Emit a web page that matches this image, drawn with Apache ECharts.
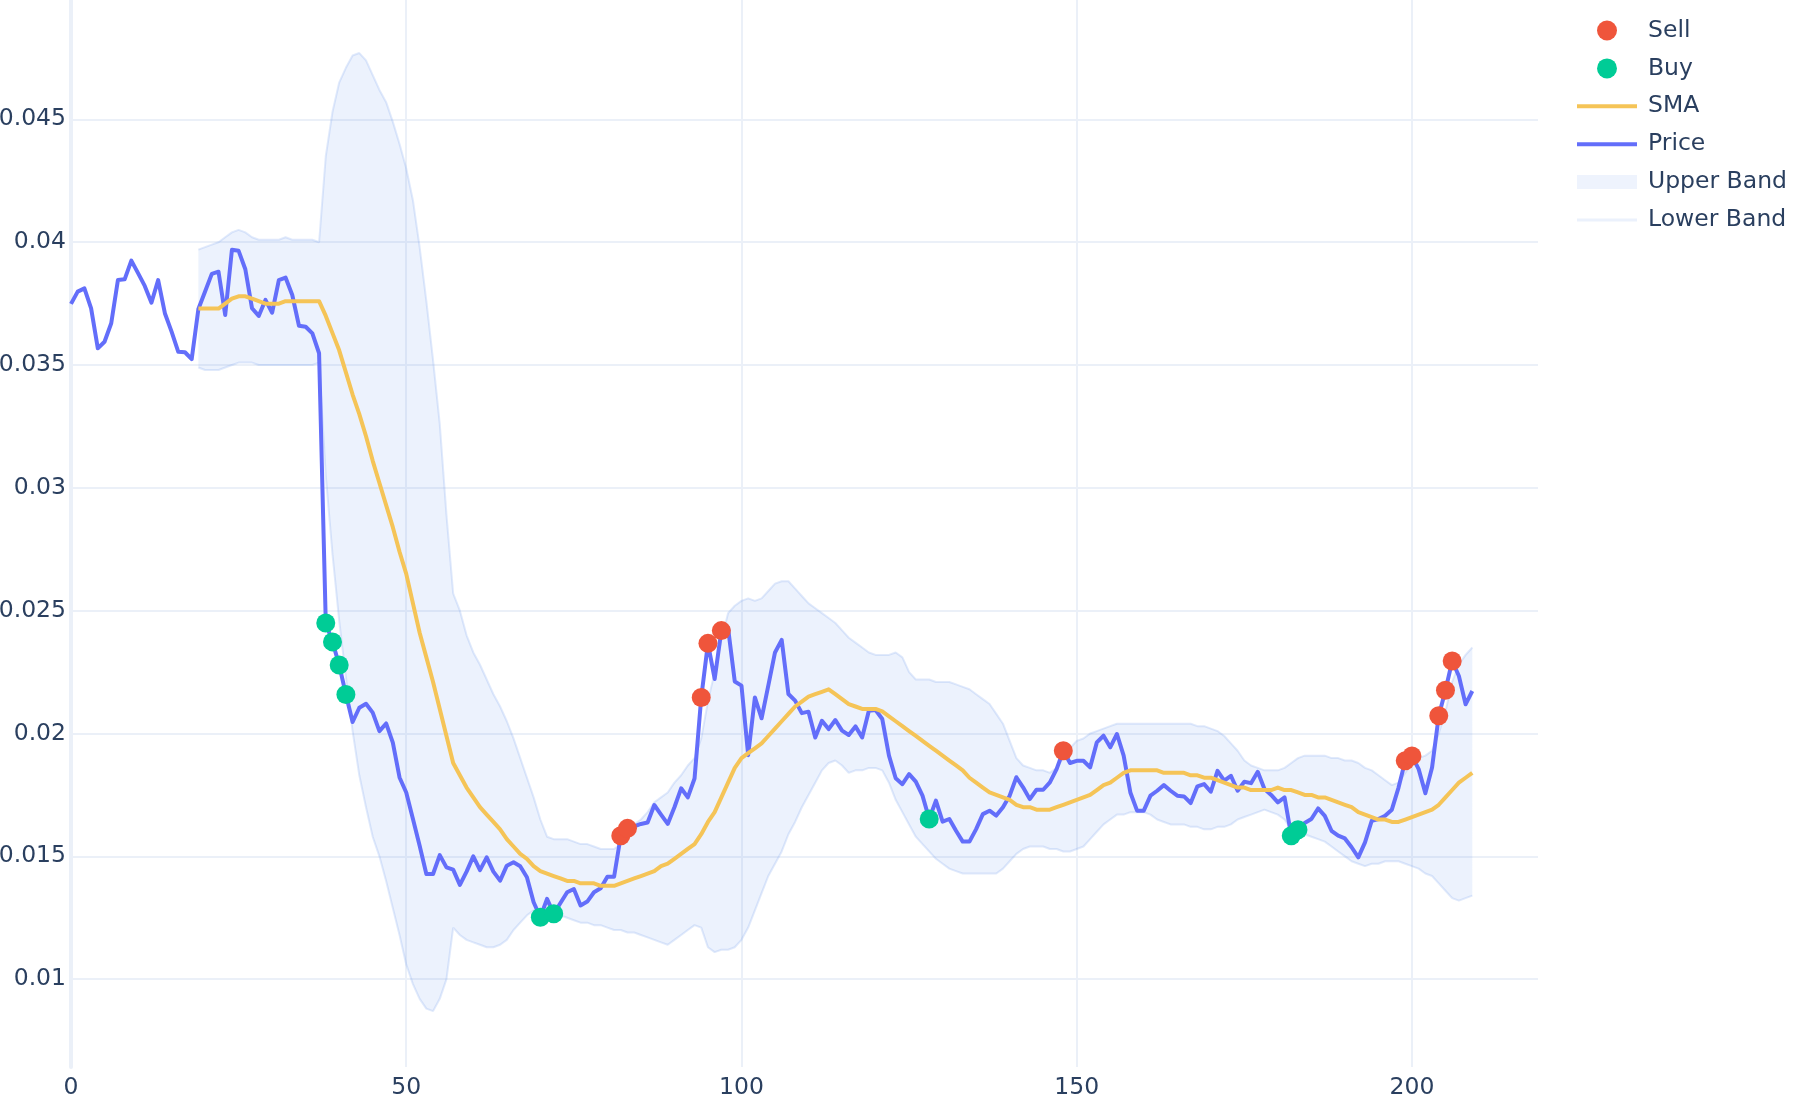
<!DOCTYPE html>
<html><head><meta charset="utf-8">
<script src="https://cdn.jsdelivr.net/npm/echarts@6/dist/echarts.min.js"></script>
<style>html,body{margin:0;padding:0;background:#fff}#c{width:1800px;height:1100px}</style>
</head><body><div id="c"></div>
<script>
// Price, index 0..209
const price = [
0.03749,0.03799,0.03812,0.03731,0.03568,0.03595,0.0367,0.03846,0.03849,0.03925,
0.03874,0.03822,0.03754,0.03846,0.03711,0.03636,0.03554,0.03552,0.03524,0.03728,
0.03799,0.03871,0.0388,0.03704,0.03969,0.03965,0.0389,0.03731,0.037,0.03765,
0.03713,0.03846,0.03856,0.03785,0.0366,0.03656,0.03629,0.03548,0.0245,0.02373,
0.02279,0.02159,0.02047,0.02105,0.02121,0.02085,0.0201,0.02041,0.01963,0.01821,
0.0176,0.01652,0.01543,0.01428,0.01428,0.01505,0.01455,0.01446,0.01384,0.01438,
0.015,0.01444,0.01496,0.01438,0.01401,0.01462,0.01476,0.0146,0.01415,0.01313,
0.01252,0.01327,0.01266,0.0131,0.01354,0.01367,0.013,0.01316,0.01354,0.0137,
0.01417,0.01417,0.01584,0.01614,0.01622,0.01632,0.01638,0.01709,0.0167,0.01632,
0.017,0.01777,0.0174,0.01817,0.02147,0.02367,0.02222,0.02419,0.0243,0.02212,
0.02195,0.01912,0.02147,0.02062,0.02195,0.0233,0.02381,0.02161,0.02134,0.02083,
0.02089,0.01984,0.02052,0.02018,0.02055,0.02012,0.01994,0.02029,0.01984,0.02093,
0.02096,0.02059,0.0191,0.01818,0.01794,0.01835,0.01804,0.01747,0.01652,0.01727,
0.01641,0.01652,0.01604,0.0156,0.0156,0.01611,0.01672,0.01686,0.01666,0.017,
0.01747,0.01822,0.01781,0.01733,0.01771,0.01771,0.01801,0.01855,0.0193,0.0188,
0.01889,0.01889,0.01862,0.01964,0.01991,0.01944,0.01998,0.0191,0.0176,0.01686,
0.01686,0.01747,0.01767,0.0179,0.01767,0.01747,0.01744,0.01717,0.01785,0.01794,
0.01763,0.01848,0.01808,0.01828,0.01767,0.01804,0.01798,0.01844,0.01774,0.0175,
0.0172,0.0174,0.01584,0.01608,0.01636,0.01652,0.01695,0.01665,0.01604,0.01584,
0.01573,0.01537,0.01496,0.01557,0.01645,0.01652,0.01665,0.0169,0.0178,0.01889,
0.01909,0.01855,0.01757,0.01862,0.02072,0.02176,0.02295,0.02234,0.02119,0.02173
];
// SMA / bands start at index 19
const bandStart = 19;
const sma = [
0.0373,0.0373,0.0373,0.0373,0.0375,0.0377,0.0378,0.0378,0.0377,0.0376,0.0375,
0.0375,0.0375,0.0376,0.0376,0.0376,0.0376,0.0376,0.0376,0.0370,0.0363,
0.0356,0.0347,0.0338,0.0330,0.0321,0.0311,0.0302,0.0293,0.0284,0.0274,
0.0265,0.0253,0.0241,0.0231,0.0221,0.0210,0.0199,0.0188,0.0183,0.0178,
0.0174,0.0170,0.0167,0.0164,0.0161,0.0157,0.0154,0.0151,0.0149,0.0146,
0.0144,0.0143,0.0142,0.0141,0.0140,0.0140,0.0139,0.0139,0.0139,0.0138,
0.0138,0.0138,0.0139,0.0140,0.0141,0.0142,0.0143,0.0144,0.0146,0.0147,
0.0149,0.0151,0.0153,0.0155,0.0159,0.0164,0.0168,0.0174,0.0180,0.0186,
0.0190,0.0192,0.0194,0.0196,0.0199,0.0202,0.0205,0.0208,0.0211,0.0213,
0.0215,0.0216,0.0217,0.0218,0.0216,0.0214,0.0212,0.0211,0.0210,0.0210,
0.0210,0.0209,0.0207,0.0205,0.0203,0.0201,0.0199,0.0197,0.0195,0.0193,
0.0191,0.0189,0.0187,0.0185,0.0182,0.0180,0.0178,0.0176,0.0175,0.0174,
0.0173,0.0171,0.0170,0.0170,0.0169,0.0169,0.0169,0.0170,0.0171,0.0172,
0.0173,0.0174,0.0175,0.0177,0.0179,0.0180,0.0182,0.0184,0.0185,0.0185,
0.0185,0.0185,0.0185,0.0184,0.0184,0.0184,0.0184,0.0183,0.0183,0.0182,
0.0182,0.0181,0.0180,0.0179,0.0178,0.0178,0.0177,0.0177,0.0177,0.0177,
0.0178,0.0177,0.0177,0.0176,0.0175,0.0175,0.0174,0.0174,0.0173,0.0172,
0.0171,0.0170,0.0168,0.0167,0.0166,0.0165,0.0165,0.0164,0.0164,0.0165,
0.0166,0.0167,0.0168,0.0169,0.0171,0.0174,0.0177,0.0180,0.0182,0.0184
];
const upper = [
0.0397,0.0398,0.0399,0.0400,0.0402,0.0404,0.0405,0.0404,0.0402,0.0401,0.0401,
0.0401,0.0401,0.0402,0.0401,0.0401,0.0401,0.0401,0.0400,0.0435,0.0453,
0.0465,0.0471,0.0476,0.0477,0.0474,0.0468,0.0462,0.0457,0.0449,0.0440,
0.0430,0.0417,0.0398,0.0376,0.0352,0.0326,0.0289,0.0257,0.0250,0.0240,
0.0233,0.0228,0.0222,0.0216,0.0211,0.0205,0.0198,0.0190,0.0182,0.0174,
0.0165,0.0158,0.0157,0.0157,0.0157,0.0156,0.0155,0.0155,0.0154,0.0153,
0.0153,0.0153,0.0155,0.0157,0.0163,0.0165,0.0168,0.0172,0.0174,0.0176,
0.0180,0.0183,0.0187,0.0190,0.0198,0.0213,0.0225,0.0238,0.0249,0.0252,
0.0254,0.0255,0.0254,0.0255,0.0258,0.0261,0.0262,0.0262,0.0259,0.0256,
0.0253,0.0251,0.0249,0.0247,0.0245,0.0242,0.0239,0.0237,0.0235,0.0233,
0.0232,0.0232,0.0232,0.0233,0.0231,0.0225,0.0222,0.0222,0.0222,0.0221,
0.0221,0.0221,0.0220,0.0219,0.0218,0.0216,0.0214,0.0212,0.0208,0.0204,
0.0197,0.0190,0.0187,0.0186,0.0185,0.0185,0.0184,0.0186,0.0190,0.0194,
0.0197,0.0198,0.0200,0.0201,0.0202,0.0203,0.0204,0.0204,0.0204,0.0204,
0.0204,0.0204,0.0204,0.0204,0.0204,0.0204,0.0204,0.0204,0.0203,0.0203,
0.0202,0.0201,0.0199,0.0196,0.0193,0.0189,0.0187,0.0186,0.0185,0.0185,
0.0185,0.0186,0.0188,0.0190,0.0191,0.0191,0.0191,0.0191,0.0190,0.0190,
0.0189,0.0189,0.0188,0.0186,0.0185,0.0183,0.0181,0.0179,0.0180,0.0184,
0.0188,0.0190,0.0191,0.0193,0.0200,0.0209,0.0221,0.0228,0.0232,0.0235
];
const lower = [
0.0349,0.0348,0.0348,0.0348,0.0349,0.0350,0.0351,0.0351,0.0351,0.0350,0.0350,
0.0350,0.0350,0.0350,0.0350,0.0350,0.0350,0.0350,0.0351,0.0305,0.0273,
0.0246,0.0223,0.0201,0.0183,0.0170,0.0158,0.0150,0.0140,0.0129,0.0118,
0.0106,0.0098,0.0092,0.0088,0.0087,0.0092,0.0100,0.0121,0.0118,0.0116,
0.0115,0.0114,0.0113,0.0113,0.0114,0.0116,0.0120,0.0123,0.0126,0.0128,
0.0128,0.0128,0.0127,0.0126,0.0125,0.0124,0.0123,0.0123,0.0122,0.0122,
0.0121,0.0120,0.0120,0.0119,0.0119,0.0118,0.0117,0.0116,0.0115,0.0114,
0.0116,0.0118,0.0120,0.0122,0.0121,0.0113,0.0111,0.0112,0.0112,0.0113,
0.0116,0.0121,0.0128,0.0135,0.0142,0.0147,0.0152,0.0159,0.0164,0.0170,
0.0175,0.0180,0.0185,0.0188,0.0189,0.0187,0.0184,0.0185,0.0185,0.0186,
0.0186,0.0185,0.0180,0.0173,0.0168,0.0163,0.0158,0.0155,0.0152,0.0149,
0.0147,0.0145,0.0144,0.0143,0.0143,0.0143,0.0143,0.0143,0.0143,0.0145,
0.0148,0.0151,0.0153,0.0154,0.0154,0.0154,0.0153,0.0153,0.0152,0.0152,
0.0153,0.0154,0.0157,0.0160,0.0163,0.0165,0.0167,0.0167,0.0168,0.0168,
0.0168,0.0167,0.0165,0.0164,0.0163,0.0163,0.0163,0.0162,0.0162,0.0161,
0.0161,0.0162,0.0162,0.0163,0.0165,0.0166,0.0167,0.0168,0.0169,0.0168,
0.0167,0.0165,0.0161,0.0160,0.0159,0.0158,0.0157,0.0156,0.0154,0.0152,
0.0150,0.0148,0.0147,0.0146,0.0147,0.0147,0.0148,0.0148,0.0148,0.0147,
0.0146,0.0145,0.0143,0.0142,0.0139,0.0136,0.0133,0.0132,0.0133,0.0134
];
const sellIdx = [82,83,94,95,97,148,199,200,204,205,206];
const buyIdx = [38,39,40,41,70,72,128,182,183];
const xTickStep = 50;

const C = {
  text:'#2a3f5f', grid:'#EBF0F8', price:'#636EFA', sma:'#F5C457',
  sell:'#EF553B', buy:'#00CC96',
  bandFill:'rgba(100,150,240,0.12)', bandEdge:'rgba(120,160,235,0.22)'
};
const FONT = 'DejaVu Sans';
const FS = 23.5;

const pricePts = price.map((v,i)=>[i,v]);
const smaPts = sma.map((v,i)=>[i+bandStart,v]);
const lowerPts = lower.map((v,i)=>[i+bandStart,v]);
const upperPts = upper.map((v,i)=>[i+bandStart,v]);
const sellPts = sellIdx.map(i=>[i,price[i]]);
const buyPts = buyIdx.map(i=>[i,price[i]]);

function renderBand(params, api) {
  if (params.dataIndex !== 0) return null;
  const pts = [];
  for (let i = 0; i < upper.length; i++) pts.push(api.coord([i + bandStart, upper[i]]));
  for (let i = lower.length - 1; i >= 0; i--) pts.push(api.coord([i + bandStart, lower[i]]));
  return {type:'polygon', shape:{points:pts}, style:{fill:C.bandFill, stroke:null}, silent:true};
}

const chart = echarts.init(document.getElementById('c'), null, {renderer:'canvas'});
chart.setOption({
  animation:false,
  backgroundColor:'#fff',
  grid:{left:71,right:262,top:0,bottom:33,containLabel:false,outerBoundsMode:'none'},
  xAxis:{type:'value',min:0,max:218.8,interval:xTickStep,
    axisLine:{show:false},axisTick:{show:false},
    axisLabel:{color:C.text,fontSize:FS,fontFamily:FONT,margin:9,showMaxLabel:false},
    splitLine:{show:true,lineStyle:{color:C.grid,width:2},showMinLine:false,showMaxLine:false}},
  yAxis:{type:'value',min:0.006425,max:0.04986,splitNumber:9,
    axisLine:{show:true,lineStyle:{color:C.grid,width:4}},axisTick:{show:false},
    axisLabel:{color:C.text,fontSize:FS,fontFamily:FONT,margin:5,showMinLabel:false,showMaxLabel:false},
    splitLine:{show:true,lineStyle:{color:C.grid,width:2},showMinLine:false,showMaxLine:false}},
  legend:{orient:'vertical',left:1577,top:13.5,padding:[5,5,5,0],itemWidth:60,itemHeight:20,itemGap:13.9,
    textStyle:{color:C.text,fontSize:FS,fontFamily:FONT,lineHeight:24,padding:[0,0,0,6]},
    data:[
      {name:'Sell',icon:'circle',itemStyle:{color:C.sell,borderWidth:0}},
      {name:'Buy',icon:'circle',itemStyle:{color:C.buy,borderWidth:0}},
      {name:'SMA',icon:'path://M0,0H60V4H0Z',itemStyle:{color:C.sma,borderWidth:0}},
      {name:'Price',icon:'path://M0,0H60V4H0Z',itemStyle:{color:C.price,borderWidth:0}},
      {name:'Upper Band',icon:'path://M0,0H60V14H0Z',itemStyle:{color:'rgba(100,150,240,0.11)',borderWidth:0}},
      {name:'Lower Band',icon:'path://M0,0H60V3H0Z',itemStyle:{color:'rgba(120,160,235,0.15)',borderWidth:0}}
    ]},
  series:[
    {name:'Upper Band',type:'custom',renderItem:renderBand,data:upperPts,clip:true,silent:true,z:1,
      itemStyle:{color:C.bandFill}},
    {name:'Lower Band',type:'line',data:lowerPts,symbol:'none',showSymbol:false,z:2,
      lineStyle:{color:C.bandEdge,width:2},itemStyle:{color:C.bandEdge},silent:true},
    {name:'Upper Band',type:'line',data:upperPts,symbol:'none',showSymbol:false,z:2,
      lineStyle:{color:C.bandEdge,width:2},itemStyle:{color:C.bandEdge},silent:true},
    {name:'Price',type:'line',data:pricePts,symbol:'none',showSymbol:false,z:3,
      lineStyle:{color:C.price,width:4,join:'round'},itemStyle:{color:C.price}},
    {name:'SMA',type:'line',data:smaPts,symbol:'none',showSymbol:false,z:3,
      lineStyle:{color:C.sma,width:4,join:'round'},itemStyle:{color:C.sma}},
    {name:'Buy',type:'scatter',data:buyPts,symbol:'circle',symbolSize:19,z:4,itemStyle:{color:C.buy,opacity:1}},
    {name:'Sell',type:'scatter',data:sellPts,symbol:'circle',symbolSize:19,z:4,itemStyle:{color:C.sell,opacity:1}}
  ]
});
</script>
</body></html>
